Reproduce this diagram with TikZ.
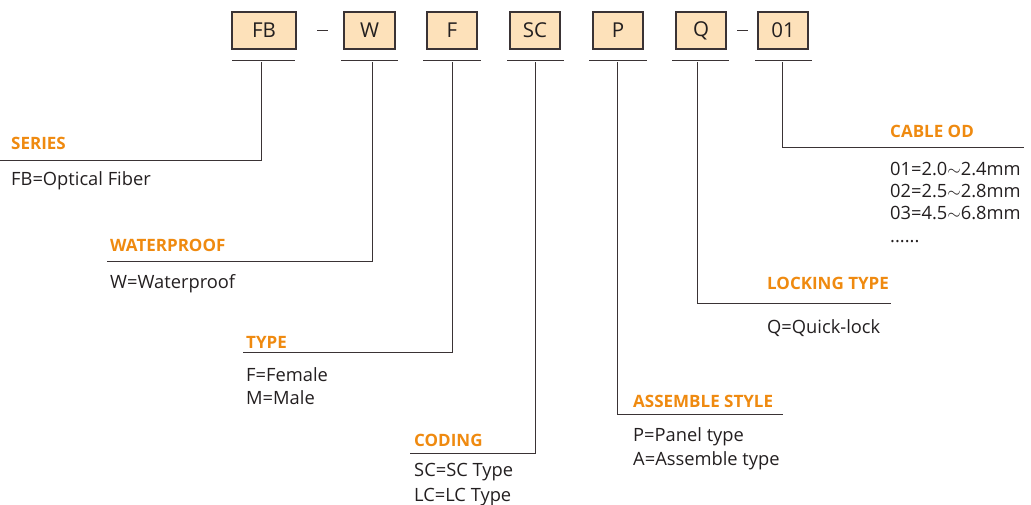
\documentclass[tikz,border=0pt]{standalone}
\usepackage{fontspec}
\setmainfont{Open Sans}
\definecolor{boxfill}{HTML}{FDE1BA}
\definecolor{linegray}{HTML}{3A3335}
\definecolor{hdorange}{HTML}{EF8A10}
\definecolor{txtgray}{HTML}{231F20}
\begin{document}
\begin{tikzpicture}[x=1pt,y=-1pt,
  codebox/.style={draw=linegray, line width=1.3pt, fill=boxfill, minimum height=37pt, inner sep=0pt, text=txtgray, font=\fontsize{20.5}{22}\selectfont},
  heading/.style={anchor=base west, text=hdorange, inner sep=0pt, font=\bfseries\fontsize{17}{20}\selectfont},
  body/.style={anchor=base west, text=txtgray, inner sep=0pt, font=\fontsize{18.3}{22}\selectfont},
  rule/.style={draw=linegray, line width=1pt},
  dashmark/.style={draw=linegray, line width=1.2pt}]
\useasboundingbox (0,0) rectangle (1031,505);

% code boxes
\node[codebox, minimum width=64pt] (bFB) at (264,30.5) {FB};
\node[codebox, minimum width=51pt] (bW)  at (369.5,30.5) {W};
\node[codebox, minimum width=50pt] (bF)  at (452,30.5) {F};
\node[codebox, minimum width=50pt] (bSC) at (535,30.5) {SC};
\node[codebox, minimum width=50pt] (bP)  at (618,30.5) {P};
\node[codebox, minimum width=50pt] (bQ)  at (701,30.5) {Q};
\node[codebox, minimum width=50pt] (b01) at (783,30.5) {\raisebox{-2.5pt}{01}};

% dashes
\coordinate (d1a) at (317,30.5); \coordinate (d1b) at (328,30.5);
\coordinate (d2a) at (737,30.5); \coordinate (d2b) at (748,30.5);
\draw[dashmark] (d1a) -- (d1b);
\draw[dashmark] (d2a) -- (d2b);

% underlines
\foreach \n/\a/\b in {FB/232/295, W/341/398, F/423/481, SC/507/564, P/589/647, Q/672/729, 01/755/812}{
  \coordinate (u\n a) at (\a,61);
  \coordinate (u\n b) at (\b,61);
  \draw[rule] (u\n a) -- (u\n b);
}

% vertical starts
\coordinate (vFB) at (261,62.5);
\coordinate (vW)  at (372,62.5);
\coordinate (vF)  at (452,62.5);
\coordinate (vSC) at (535,62.5);
\coordinate (vP)  at (617,62.5);
\coordinate (vQ)  at (697,62.5);
\coordinate (v01) at (782,62.5);

% line free ends
\coordinate (eSeries) at (0,161);
\coordinate (eWater)  at (107,262);
\coordinate (eType)   at (243,352);
\coordinate (eCoding) at (410,453);
\coordinate (eAssem)  at (783,414);
\coordinate (eLock)   at (891,303);
\coordinate (eCable)  at (1024,148);

\draw[rule] (vFB) |- (eSeries);
\draw[rule] (vW)  |- (eWater);
\draw[rule] (vF)  |- (eType);
\draw[rule] (vSC) |- (eCoding);
\draw[rule] (vP)  |- (eAssem);
\draw[rule] (vQ)  |- (eLock);
\draw[rule] (v01) |- (eCable);

% headings and texts
\node[heading] (hSeries) at (11,149.5) {SERIES};
\node[body]    (tSeries) at (11,186) {FB=Optical Fiber};

\node[heading] (hWater) at (110,251.5) {WATERPROOF};
\node[body]    (tWater) at (110,288) {W=Waterproof};

\node[heading] (hType) at (246,348.5) {TYPE};
\node[body]    (tType1) at (246,381) {F=Female};
\node[body]    (tType2) at (246,404.5) {M=Male};

\node[heading] (hCoding) at (414,446.5) {CODING};
\node[body]    (tCoding1) at (414,476.5) {SC=SC Type};
\node[body]    (tCoding2) at (414,501) {LC=LC Type};

\node[heading] (hAssem) at (633,407.5) {ASSEMBLE STYLE};
\node[body]    (tAssem1) at (633,441) {P=Panel type};
\node[body]    (tAssem2) at (633,465.5) {A=Assemble type};

\node[heading] (hLock) at (767,289.5) {LOCKING TYPE};
\node[body]    (tLock) at (767,333) {Q=Quick-lock};

\node[heading] (hCable) at (890,137.5) {CABLE OD};
\node[body] (tCable1) at (890,175.5) {01=2.0$\sim$2.4mm};
\node[body] (tCable2) at (890,197.5) {02=2.5$\sim$2.8mm};
\node[body] (tCable3) at (890,219.5) {03=4.5$\sim$6.8mm};
\node[body] (tCable4) at (890,243) {......};
\end{tikzpicture}
\end{document}
